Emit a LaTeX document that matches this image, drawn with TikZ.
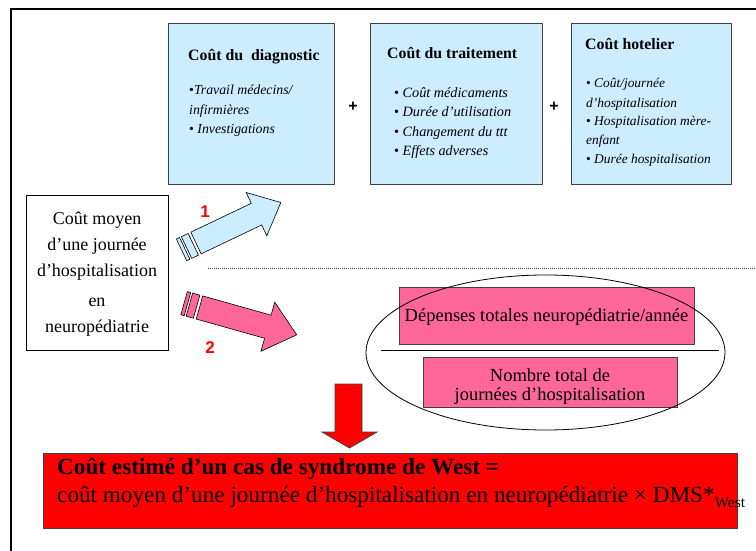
\documentclass[tikz,border=0pt]{standalone}
\usepackage{fontspec}
\setmainfont{Liberation Serif}
\newfontfamily\sansf{Liberation Sans}
\usetikzlibrary{shapes.geometric}
\definecolor{boxblue}{HTML}{CCECFF}
\definecolor{pinkf}{HTML}{FF6699}
\definecolor{redf}{HTML}{FF0000}
\definecolor{edgec}{HTML}{404040}
\newcommand{\mybul}{{\upshape •}}
\begin{document}
\begin{tikzpicture}[x=1pt,y=-1pt,
  costbox/.style={draw=edgec, line width=0.9pt, fill=boxblue, anchor=north west, inner sep=0},
  pinkbox/.style={draw=edgec, line width=0.9pt, fill=pinkf, anchor=north west, inner sep=0},
  titletxt/.style={anchor=base west, inner sep=0, font=\fontsize{15.8}{18}\selectfont\bfseries},
  itemtxt/.style={anchor=base west, inner sep=0, font=\fontsize{13.8}{16}\selectfont\itshape},
  lefttxt/.style={anchor=base, inner sep=0, font=\fontsize{18}{20}\selectfont},
  pinktxt/.style={anchor=base, inner sep=0, font=\fontsize{18.5}{20}\selectfont},
  redtxt/.style={anchor=base west, inner sep=0, font=\fontsize{23.2}{25}\selectfont},
  numlbl/.style={text=redf, font=\sansf\bfseries\fontsize{17}{18}\selectfont, inner sep=0},
  plussign/.style={font=\sansf\bfseries\fontsize{16}{18}\selectfont, inner sep=0},
  blockarrow/.style={draw=black, line width=0.6pt, line join=miter},
]
\useasboundingbox (0,0) rectangle (756,551);
\fill[white] (0,0) rectangle (756,551);
% page frame
\draw[line width=2pt] (11,551) -- (11,9) -- (756,9);

% cost boxes
\node[costbox, minimum width=166pt, minimum height=161pt] (diag) at (168,23) {};
\node[costbox, minimum width=172pt, minimum height=161pt] (trait) at (370,23) {};
\node[costbox, minimum width=160pt, minimum height=161pt] (hotel) at (571,23) {};

\node[titletxt] (diagT) at (188,61) {Coût du\hspace{8pt}diagnostic};
\node[itemtxt] (diag1) at (189,95) {\mybul Travail médecins/};
\node[itemtxt] (diag2) at (189,114) {infirmières};
\node[itemtxt] (diag3) at (189,133) {\mybul\ Investigations};

\node[titletxt] (traitT) at (387,59) {Coût du traitement};
\node[itemtxt, font=\fontsize{14.2}{16}\selectfont\itshape] (trait1) at (394,98) {\mybul\ Coût médicaments};
\node[itemtxt, font=\fontsize{14.2}{16}\selectfont\itshape] (trait2) at (394,117) {\mybul\ Durée d’utilisation};
\node[itemtxt, font=\fontsize{14.2}{16}\selectfont\itshape] (trait3) at (394,136) {\mybul\ Changement du ttt};
\node[itemtxt, font=\fontsize{14.2}{16}\selectfont\itshape] (trait4) at (394,155) {\mybul\ Effets adverses};

\node[titletxt] (hotelT) at (585,50) {Coût hotelier};
\node[itemtxt, font=\fontsize{13.4}{16}\selectfont\itshape] (hotel1) at (586,88) {\mybul\ Coût/journée};
\node[itemtxt, font=\fontsize{13.4}{16}\selectfont\itshape] (hotel2) at (586,107) {d’hospitalisation};
\node[itemtxt, font=\fontsize{13.4}{16}\selectfont\itshape] (hotel3) at (586,126) {\mybul\ Hospitalisation mère-};
\node[itemtxt, font=\fontsize{13.4}{16}\selectfont\itshape] (hotel4) at (586,145) {enfant};
\node[itemtxt, font=\fontsize{13.4}{16}\selectfont\itshape] (hotel5) at (586,164) {\mybul\ Durée hospitalisation};

\node[plussign] (plusA) at (353,107) {+};
\node[plussign] (plusB) at (554,107) {+};

% left box
\node[draw=black, line width=0.9pt, minimum width=142pt, minimum height=155pt, anchor=north west, inner sep=0] (left) at (26,195) {};
\node[lefttxt] (left1) at (97,224) {Coût moyen};
\node[lefttxt] (left2) at (97,250) {d’une journée};
\node[lefttxt] (left3) at (97,276) {d’hospitalisation};
\node[lefttxt] (left4) at (97,306) {en};
\node[lefttxt] (left5) at (97,332) {neuropédiatrie};

% striped arrow 1
\begin{scope}[shift={(196,243)}, rotate=25.5]
  \filldraw[blockarrow, fill=boxblue] (0,-12) -- (67,-12) -- (67,-24) -- (94,0) -- (67,24) -- (67,12) -- (0,12) -- cycle;
  \filldraw[blockarrow, fill=boxblue] (-16,-12) rectangle (-12.5,12);
  \filldraw[blockarrow, fill=boxblue] (-10.5,-12) rectangle (-3,12);
\end{scope}
\node[numlbl] (n1) at (205,212) {1};

% striped arrow 2
\begin{scope}[shift={(199.5,307.5)}, rotate=-15.7]
  \filldraw[blockarrow, fill=pinkf] (0,-12) -- (71,-12) -- (71,-25.5) -- (101,0) -- (71,25.5) -- (71,12) -- (0,12) -- cycle;
  \filldraw[blockarrow, fill=pinkf] (-16,-12) rectangle (-12.5,12);
  \filldraw[blockarrow, fill=pinkf] (-10.5,-12) rectangle (-3,12);
\end{scope}
\node[numlbl] (n2) at (210,348) {2};

% dotted separator
\coordinate (dotA) at (208,268);
\coordinate (dotB) at (756,268);
\draw[black!70, line width=0.6pt, dash pattern=on 1pt off 1pt] (dotA) -- (dotB);

% ratio
\node[pinkbox, minimum width=295pt, minimum height=57pt] (dep) at (399,287) {};
\node[pinktxt] (depT) at (546.5,321) {Dépenses totales neuropédiatrie/année};
\coordinate (fracA) at (381,350);
\coordinate (fracB) at (719,350);
\draw[line width=0.9pt] (fracA) -- (fracB);
\node[pinkbox, minimum width=254pt, minimum height=50pt] (nb) at (423,357) {};
\node[pinktxt] (nb1) at (550,381) {Nombre total de};
\node[pinktxt] (nb2) at (550,400) {journées d’hospitalisation};
\node[draw=black, line width=0.8pt, ellipse, minimum width=359pt, minimum height=155pt, inner sep=0] (ell) at (545.5,352.5) {};

% down arrow
\filldraw[draw=edgec, line width=0.8pt, fill=redf] (335,384) -- (362,384) -- (362,432) -- (377,432) -- (349.5,448) -- (322,432) -- (335,432) -- cycle;

% result box
\node[draw=edgec, line width=0.9pt, fill=redf, minimum width=694pt, minimum height=75pt, anchor=north west, inner sep=0] (res) at (43,453) {};
\node[redtxt, font=\fontsize{23.2}{25}\selectfont\bfseries] (res1) at (57,474) {Coût estimé d’un cas de syndrome de West =};
\node[redtxt] (res2) at (57,502) {coût moyen d’une journée d’hospitalisation en neuropédiatrie × DMS*\raisebox{-5pt}{\fontsize{15.5}{15}\selectfont West}};
\end{tikzpicture}
\end{document}
